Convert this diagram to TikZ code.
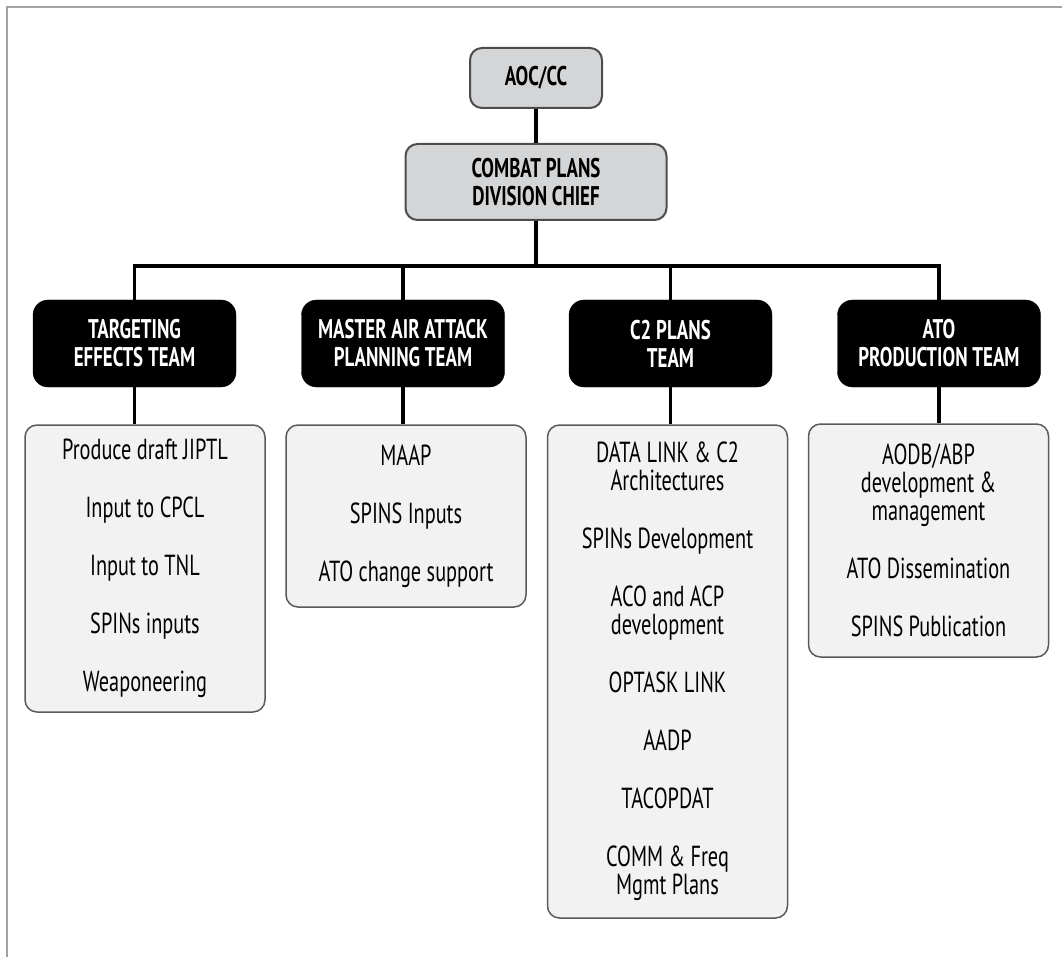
\documentclass[tikz,border=0pt]{standalone}
\usepackage{fontspec}
\setmainfont[FakeStretch=0.70]{PT Sans}
\definecolor{hdrfill}{HTML}{D4D5D7}
\definecolor{hdrline}{HTML}{4D4D4D}
\definecolor{listfill}{HTML}{F2F2F2}
\definecolor{listline}{HTML}{5A5A5A}
\definecolor{framegray}{HTML}{A3A3A3}
\begin{document}
\begin{tikzpicture}[x=1pt,y=-1pt,
  wire/.style={line width=3.5pt,black},
  hdrbox/.style={draw=hdrline,line width=2pt,fill=hdrfill,rounded corners=12pt,
    align=center,inner sep=0pt,font=\bfseries\fontsize{27}{28}\selectfont},
  teambox/.style={draw=black,fill=black,rounded corners=15pt,text=white,
    minimum width=203pt,minimum height=87pt,inner sep=0pt,align=center,
    font=\bfseries\fontsize{27}{28}\selectfont},
  listbox/.style={draw=listline,line width=1.5pt,fill=listfill,rounded corners=12pt,
    minimum width=240pt,inner sep=0pt,align=center,
    font=\fontsize{29}{28}\selectfont}]
\useasboundingbox (0,0) rectangle (1062,957);
% page frame (top and left rules)
\draw[framegray,line width=2pt] (7,957) -- (7,7) -- (1062,7);

% command chain
\node[hdrbox,minimum width=132pt,minimum height=60pt] (aoc) at (536,78) {AOC/CC};
\node[hdrbox,minimum width=261pt,minimum height=76pt] (chief) at (536,182) {COMBAT PLANS\\DIVISION CHIEF};
\coordinate (bus) at (0,266);

% teams
\node[teambox] (t1) at (134.5,343.5) {TARGETING\\EFFECTS TEAM};
\node[teambox] (t2) at (403,343.5) {MASTER AIR ATTACK\\PLANNING TEAM};
\node[teambox] (t3) at (670.5,343.5) {C2 PLANS\\TEAM};
\node[teambox] (t4) at (939,343.5) {ATO\\PRODUCTION TEAM};

% task lists
\node[listbox,minimum height=287pt] (l1) at (145,568.5)
  {Produce draft JIPTL\\[30pt]Input to CPCL\\[30pt]Input to TNL\\[30pt]SPINs inputs\\[30pt]Weaponeering};
\node[listbox,minimum height=182pt] (l2) at (406,516)
  {MAAP\\[30pt]SPINS Inputs\\[30pt]ATO change support};
\node[listbox,minimum height=493pt] (l3) at (667.5,671.5)
  {DATA LINK \& C2\\Architectures\\[30pt]SPINs Development\\[30pt]ACO and ACP\\development\\[30pt]OPTASK LINK\\[30pt]AADP\\[30pt]TACOPDAT\\[30pt]COMM \& Freq\\Mgmt Plans};
\node[listbox,minimum height=233pt] (l4) at (928.5,540.5)
  {AODB/ABP\\development \&\\management\\[30pt]ATO Dissemination\\[30pt]SPINS Publication};

% connectors
\draw[wire] (aoc.south) -- (chief.north);
\draw[wire] (chief.south) -- (chief.south |- bus);
\draw[wire] (t1.north) -- (t1.north |- bus) -- (t4.north |- bus) -- (t4.north);
\draw[wire] (t2.north) -- (t2.north |- bus);
\draw[wire] (t3.north) -- (t3.north |- bus);
\foreach \t/\l in {t1/l1,t2/l2,t3/l3,t4/l4}
  \draw[wire] (\t.south) -- (\t.south |- \l.north);
\end{tikzpicture}
\end{document}
